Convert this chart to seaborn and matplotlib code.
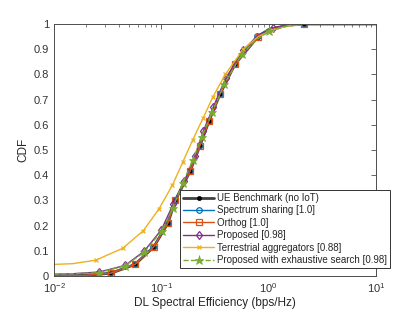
import numpy as np
import pandas as pd
import matplotlib
matplotlib.use("Agg")
import matplotlib.pyplot as plt
import seaborn as sns
from matplotlib.ticker import LogLocator, FixedLocator

# ---------------- data ----------------
ue_x = [0.01, 0.015, 0.02, 0.034, 0.0569, 0.0849, 0.1153, 0.135, 0.185, 0.229, 0.278, 0.352, 0.486, 0.79, 1.0, 1.5, 2.14, 10]
ue_y = [0.0, 0.001, 0.003, 0.011, 0.046, 0.115, 0.21, 0.30, 0.415, 0.517, 0.615, 0.722, 0.841, 0.948, 0.978, 0.995, 1.0, 1.0]

ss_x = [0.01, 0.015, 0.02, 0.0335, 0.0565, 0.0845, 0.1145, 0.134, 0.184, 0.228, 0.277, 0.351, 0.482, 0.774, 1.0, 1.5, 2.14, 10]
ss_y = [0.0, 0.001, 0.003, 0.011, 0.047, 0.116, 0.212, 0.302, 0.417, 0.519, 0.617, 0.724, 0.843, 0.953, 0.979, 0.995, 1.0, 1.0]

or_x = [0.01, 0.015, 0.02, 0.034, 0.0569, 0.0849, 0.1153, 0.135, 0.185, 0.229, 0.278, 0.352, 0.486, 0.79, 1.0, 1.5, 2.14, 10]
or_y = [0.0, 0.001, 0.003, 0.011, 0.046, 0.115, 0.21, 0.30, 0.415, 0.517, 0.615, 0.722, 0.841, 0.948, 0.978, 0.995, 1.0, 1.0]

pr_x = [0.01, 0.015, 0.0265, 0.046, 0.069, 0.10, 0.129, 0.164, 0.205, 0.246, 0.306, 0.397, 0.58, 0.8, 1.10, 1.6, 2.2, 10]
pr_y = [0.007, 0.009, 0.016, 0.042, 0.098, 0.183, 0.285, 0.377, 0.475, 0.575, 0.672, 0.784, 0.897, 0.955, 0.985, 0.996, 1.0, 1.0]

ta_x = [0.01, 0.015, 0.0246, 0.0437, 0.068, 0.095, 0.127, 0.158, 0.196, 0.246, 0.301, 0.394, 0.58, 0.8, 1.07, 1.5, 2.2, 10]
ta_y = [0.046, 0.049, 0.063, 0.11, 0.18, 0.266, 0.361, 0.451, 0.54, 0.628, 0.709, 0.80, 0.90, 0.95, 0.976, 0.992, 1.0, 1.0]

ex_x = [0.01, 0.015, 0.0262, 0.0461, 0.069, 0.1014, 0.1277, 0.158, 0.197, 0.238, 0.298, 0.386, 0.561, 0.78, 1.014, 1.5, 2.2, 10]
ex_y = [0.007, 0.009, 0.013, 0.041, 0.094, 0.18, 0.269, 0.368, 0.46, 0.553, 0.651, 0.761, 0.88, 0.94, 0.971, 0.992, 1.0, 1.0]

labels = ["UE Benchmark (no IoT)", "Spectrum sharing [1.0]", "Orthog [1.0]",
          "Proposed [0.98]", "Terrestrial aggregators [0.88]",
          "Proposed with exhaustive search [0.98]"]
yticks = [0, 0.1, 0.2, 0.3, 0.4, 0.5, 0.6, 0.7, 0.8, 0.9, 1.0]
ytick_labels = ["0", "0.1", "0.2", "0.3", "0.4", "0.5", "0.6", "0.7", "0.8", "0.9", "1"]

# ---------------- style ----------------
sns.set_style("white")
plt.rcParams["font.family"] = ["Liberation Sans", "DejaVu Sans"]
plt.rcParams["mathtext.default"] = "regular"

fig = plt.figure(figsize=(4.15, 3.12), dpi=100)
ax = fig.add_axes([54 / 415, 36 / 312, 322 / 415, 252 / 312])

ue_marks = [3, 4, 5, 6, 7, 8, 9, 10, 11, 12, 13, 16]
pr_marks = [2, 3, 4, 5, 6, 7, 8, 9, 10, 11, 12, 14]
series = [
    (ue_x, ue_y, ue_marks, dict(color="#404040", lw=2.0, marker="o", ms=3, mfc="black", mec="black", mew=0.5, ls="-")),
    (ss_x, ss_y, ue_marks, dict(color="#0072BD", lw=1.0, marker="o", ms=4, mfc="none", mec="#0072BD", mew=0.9, ls="-")),
    (or_x, or_y, ue_marks, dict(color="#D95319", lw=1.0, marker="s", ms=4, mfc="none", mec="#D95319", mew=0.9, ls="-")),
    (pr_x, pr_y, pr_marks, dict(color="#7E2F8E", lw=1.0, marker="d", ms=4.5, mfc="none", mec="#7E2F8E", mew=0.9, ls="-")),
    (ta_x, ta_y, pr_marks, dict(color="#EDB120", lw=1.0, marker="x", ms=3.5, mec="#EDB120", mew=0.9, ls="-")),
    (ex_x, ex_y, pr_marks, dict(color="#77AC30", lw=1.0, marker="*", ms=6.5, mfc="#77AC30", mec="#77AC30", mew=0.5, ls="--")),
]

for (xs, ys, marks, st), lab in zip(series, labels):
    df = pd.DataFrame({"x": xs, "y": ys})
    sns.lineplot(data=df, x="x", y="y", ax=ax, estimator=None, sort=False,
                 label=lab, markevery=marks, **st)

ax.set_xscale("log")
ax.set_xlim(1e-2, 1e1)
ax.set_ylim(0, 1)
ax.yaxis.set_major_locator(FixedLocator(yticks))
ax.set_yticklabels(ytick_labels)
ax.xaxis.set_major_locator(LogLocator(base=10, numticks=10))
ax.xaxis.set_minor_locator(LogLocator(base=10, subs=np.arange(2, 10), numticks=20))

axc = "#4d4d4d"
for s in ax.spines.values():
    s.set_color(axc)
    s.set_linewidth(0.7)
    s.set_visible(True)
ax.tick_params(which="both", direction="in", top=True, right=True, colors=axc,
               labelcolor="#333333", labelsize=8)
ax.tick_params(which="major", length=3.5, width=0.6)
ax.tick_params(which="minor", length=2, width=0.5)

ax.set_xlabel("DL Spectral Efficiency (bps/Hz)", fontsize=8.5, color="#262626", labelpad=2)
ax.set_ylabel("CDF", fontsize=8.5, color="#262626", labelpad=3)

leg = ax.legend(loc="lower right", bbox_to_anchor=(390 / 415, 44 / 312),
                bbox_transform=fig.transFigure, borderaxespad=0, fontsize=7,
                frameon=True, fancybox=False, framealpha=1, edgecolor="#333333",
                handlelength=3.2, handletextpad=0.3, labelspacing=0.25,
                borderpad=0.3)
leg.get_frame().set_linewidth(0.7)

fig.savefig("out.png", dpi=100)
